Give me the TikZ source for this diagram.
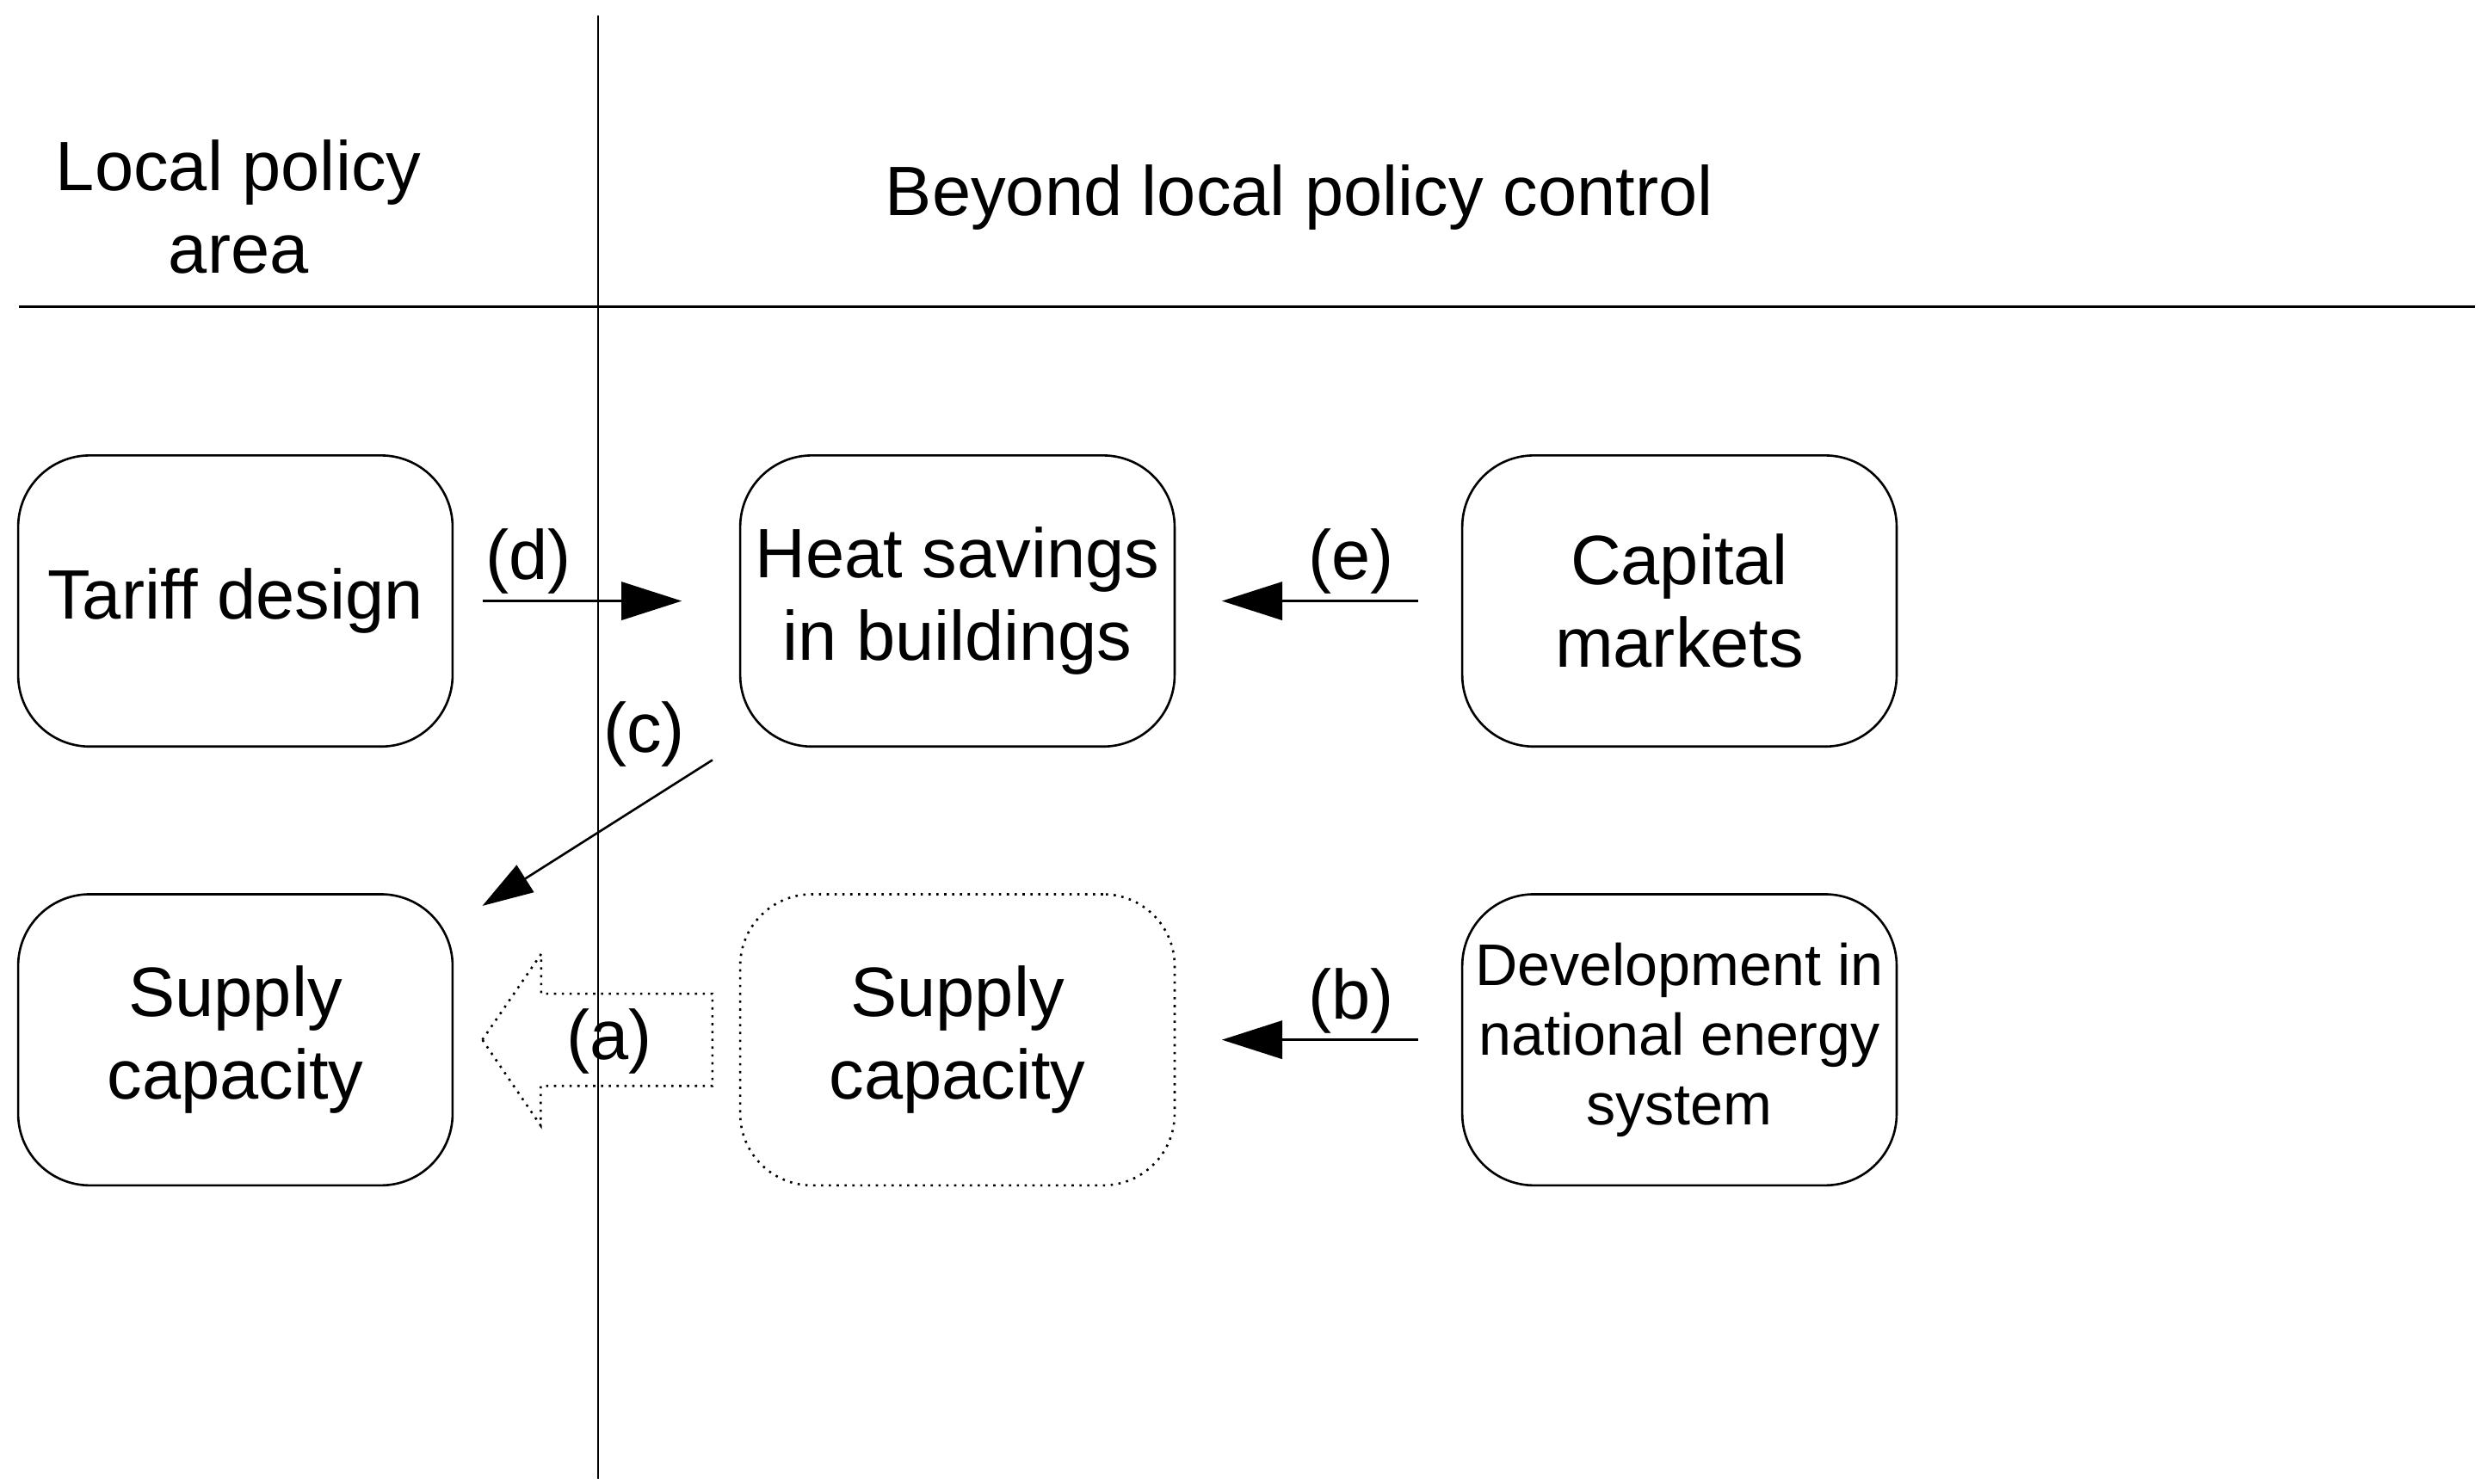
\documentclass[tikz,border=0pt]{standalone}
\usepackage{fontspec}
\setmainfont{Liberation Sans}
\usetikzlibrary{positioning,arrows.meta}
\begin{document}
\begin{tikzpicture}[x=0.01cm,y=-0.01cm,font=\fontsize{12.5}{14.8}\selectfont]
  \tikzstyle{box}=[draw, rounded corners=0.45cm, minimum width=2.73cm, minimum height=1.83cm,
align=center, inner sep=1pt]
  \tikzstyle{link}=[-{Triangle[length=0.38cm,width=0.24cm]}]
  \tikzstyle{tag}=[inner sep=1pt]
  \useasboundingbox (0,0) rectangle (1560,933);
  \draw (376,10) -- (376,930);
  \draw (12,193) -- (1556,193);
  \node[align=center] (local) at (150,130) {Local policy\\area};
  \node[align=center] (beyond) at (817,124) {Beyond local policy control};

  \node[box] (tariff) at (148,378) {Tariff design};
  \node[box] (heat) at (602,378) {Heat savings\\in buildings};
  \node[box] (capital) at (1056,378) {Capital\\markets};
  \node[box] (supL) at (148,654) {Supply\\capacity};
  \node[box, densely dotted] (supR) at (602,654) {Supply\\capacity};
  \node[box, font=\fontsize{10.5}{12.5}\selectfont] (devel) at (1056,654) {Development in\\national energy\\system};

  \draw[link] ([xshift=0.18cm]tariff.east) -- ([xshift=-0.36cm]heat.west) node[tag, pos=0.23, above] {(d)};
  \draw[link] ([xshift=-0.27cm]capital.west) -- ([xshift=0.29cm]heat.east) node[tag, pos=0.34, above] {(e)};
  \draw[link] ([xshift=-0.27cm]devel.west) -- ([xshift=0.29cm]supR.east) node[tag, pos=0.34, above] {(b)};
  \draw[-{Triangle[length=0.32cm,width=0.2cm]}] (448,478) -- ([xshift=0.18cm,yshift=-0.08cm]supL.north east);
  \node[tag] (c) at (405,462) {(c)};
  \coordinate (aTail) at ([xshift=-0.18cm]supR.west);
  \coordinate (aTip) at ([xshift=0.18cm]supL.east);
  \draw[densely dotted] (aTip) -- ++(37,-54) -- ++(0,25) -- (448,625) -- (448,683)
    -- (340,683) -- ++(0,25) -- cycle;
  \node[tag] (a) at (383,655) {(a)};
\end{tikzpicture}
\end{document}
